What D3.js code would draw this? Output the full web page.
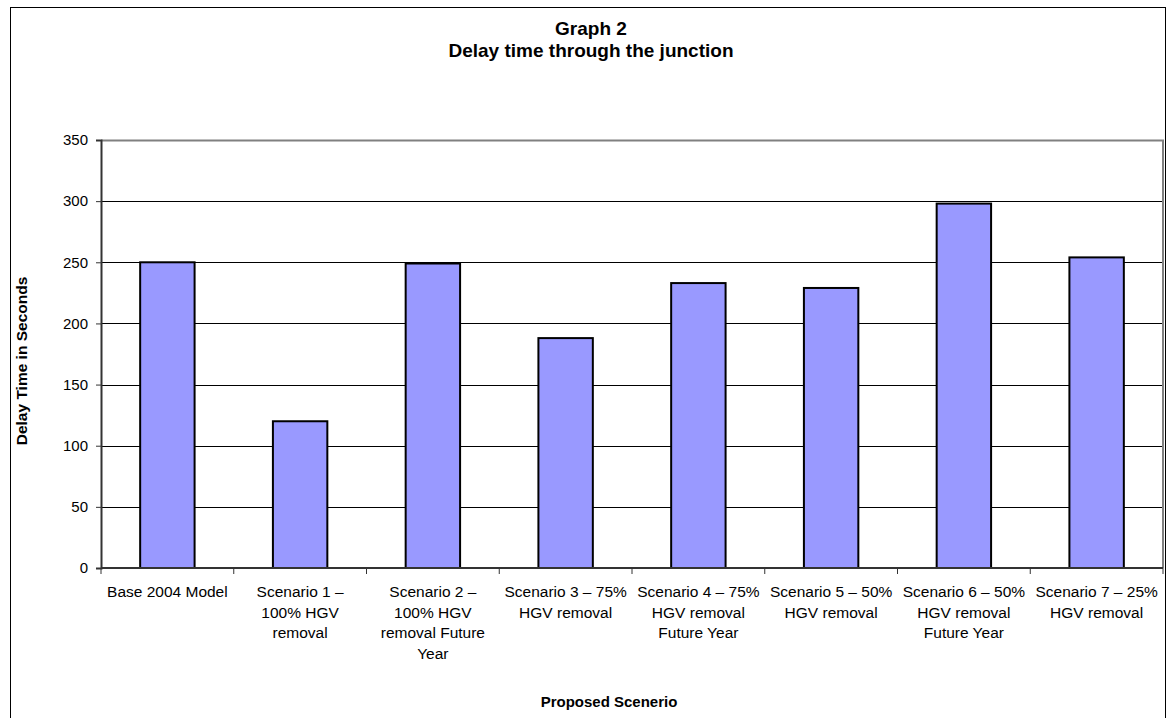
<!DOCTYPE html>
<html>
<head>
<meta charset="utf-8">
<script src="https://cdn.jsdelivr.net/npm/d3@7"></script>
<style>
  html, body { margin: 0; padding: 0; background: #fff; }
  svg { display: block; font-family: "Liberation Sans", Arial, sans-serif; }
</style>
</head>
<body>
<svg id="chart" width="1172" height="718"></svg>
<script>
// Scenario names, split into the lines shown under each bar
const categories = [
  ["Base 2004 Model"],
  ["Scenario 1 \u2013", "100% HGV", "removal"],
  ["Scenario 2 \u2013", "100% HGV", "removal Future", "Year"],
  ["Scenario 3 \u2013 75%", "HGV removal"],
  ["Scenario 4 \u2013 75%", "HGV removal", "Future Year"],
  ["Scenario 5 \u2013 50%", "HGV removal"],
  ["Scenario 6 \u2013 50%", "HGV removal", "Future Year"],
  ["Scenario 7 \u2013 25%", "HGV removal"]
];
// Delay through the junction, seconds
const delaySeconds = [250, 120, 249, 188, 233, 229, 298, 254];
const yTicks = [0, 50, 100, 150, 200, 250, 300, 350];
const titleLines = ["Graph 2", "Delay time through the junction"];
const xTitle = "Proposed Scenerio";
const yTitle = "Delay Time in Seconds";

const svg = d3.select("#chart");
const plot = { left: 101, top: 140, right: 1163, bottom: 568 };
const FONT = "Liberation Sans, Arial, sans-serif";

// outer chart frame
svg.append("rect")
  .attr("x", 10.5).attr("y", 7.5)
  .attr("width", 1155).attr("height", 720)
  .attr("fill", "#fff").attr("stroke", "#000").attr("stroke-width", 1);

const idx = categories.map((d, i) => i);
const x = d3.scaleBand().domain(idx).range([plot.left, plot.right])
  .paddingInner(0.59).paddingOuter(0.295);
const y = d3.scaleLinear().domain([0, 350]).range([plot.bottom, plot.top]);

// gridlines
svg.append("g").selectAll("line")
  .data(yTicks.filter(t => t > 0 && t < 350))
  .join("line")
  .attr("x1", plot.left).attr("x2", plot.right)
  .attr("y1", d => Math.round(y(d)) + 0.5).attr("y2", d => Math.round(y(d)) + 0.5)
  .attr("stroke", "#000").attr("stroke-width", 1);

// plot area border (top / right)
svg.append("path")
  .attr("d", `M${plot.left},${plot.top + 0.5}H${plot.right}V${plot.bottom}`)
  .attr("fill", "none").attr("stroke", "#808080").attr("stroke-width", 2);

// bars
svg.append("g").selectAll("rect")
  .data(delaySeconds)
  .join("rect")
  .attr("x", (d, i) => x(i))
  .attr("y", d => y(d))
  .attr("width", x.bandwidth())
  .attr("height", d => y(0) - y(d))
  .attr("fill", "#9999FF")
  .attr("stroke", "#000").attr("stroke-width", 2);

// y axis
const yAxis = svg.append("g")
  .attr("transform", `translate(${plot.left},0)`)
  .call(d3.axisLeft(y).tickValues(yTicks).tickSize(5).tickPadding(8));
yAxis.attr("font-size", 15).attr("font-family", FONT);
yAxis.select(".domain").attr("stroke", "#333").attr("stroke-width", 2);
yAxis.selectAll(".tick line").attr("stroke", "#333");
yAxis.selectAll(".tick text").attr("fill", "#000");

// x axis baseline and category separators
const xAxis = svg.append("g");
xAxis.append("line")
  .attr("x1", plot.left).attr("x2", plot.right)
  .attr("y1", plot.bottom).attr("y2", plot.bottom)
  .attr("stroke", "#333").attr("stroke-width", 2);
const step = x.step();
xAxis.selectAll("line.sep")
  .data(d3.range(categories.length + 1))
  .join("line").attr("class", "sep")
  .attr("x1", i => x(0) - step * x.paddingOuter() + i * step)
  .attr("x2", i => x(0) - step * x.paddingOuter() + i * step)
  .attr("y1", plot.bottom).attr("y2", plot.bottom + 6)
  .attr("stroke", "#333").attr("stroke-width", 1);

// category labels
const lab = xAxis.selectAll("text.cat")
  .data(categories)
  .join("text").attr("class", "cat")
  .attr("text-anchor", "middle")
  .attr("font-size", 15.5).attr("fill", "#000");
lab.each(function(lines, i) {
  const cx = x(i) + x.bandwidth() / 2;
  d3.select(this).selectAll("tspan")
    .data(lines)
    .join("tspan")
    .attr("x", cx)
    .attr("y", (l, j) => 597 + j * 20.5)
    .text(l => l);
});

// titles
svg.append("text")
  .attr("text-anchor", "middle").attr("font-weight", "bold").attr("font-size", 19)
  .selectAll("tspan").data(titleLines).join("tspan")
  .attr("x", 591).attr("y", (d, i) => 35 + i * 22)
  .text(d => d);

svg.append("text")
  .attr("x", 609).attr("y", 707)
  .attr("text-anchor", "middle").attr("font-weight", "bold").attr("font-size", 15)
  .text(xTitle);

svg.append("text")
  .attr("transform", `translate(27,361) rotate(-90)`)
  .attr("text-anchor", "middle").attr("font-weight", "bold").attr("font-size", 15.5)
  .text(yTitle);
</script>
</body>
</html>
